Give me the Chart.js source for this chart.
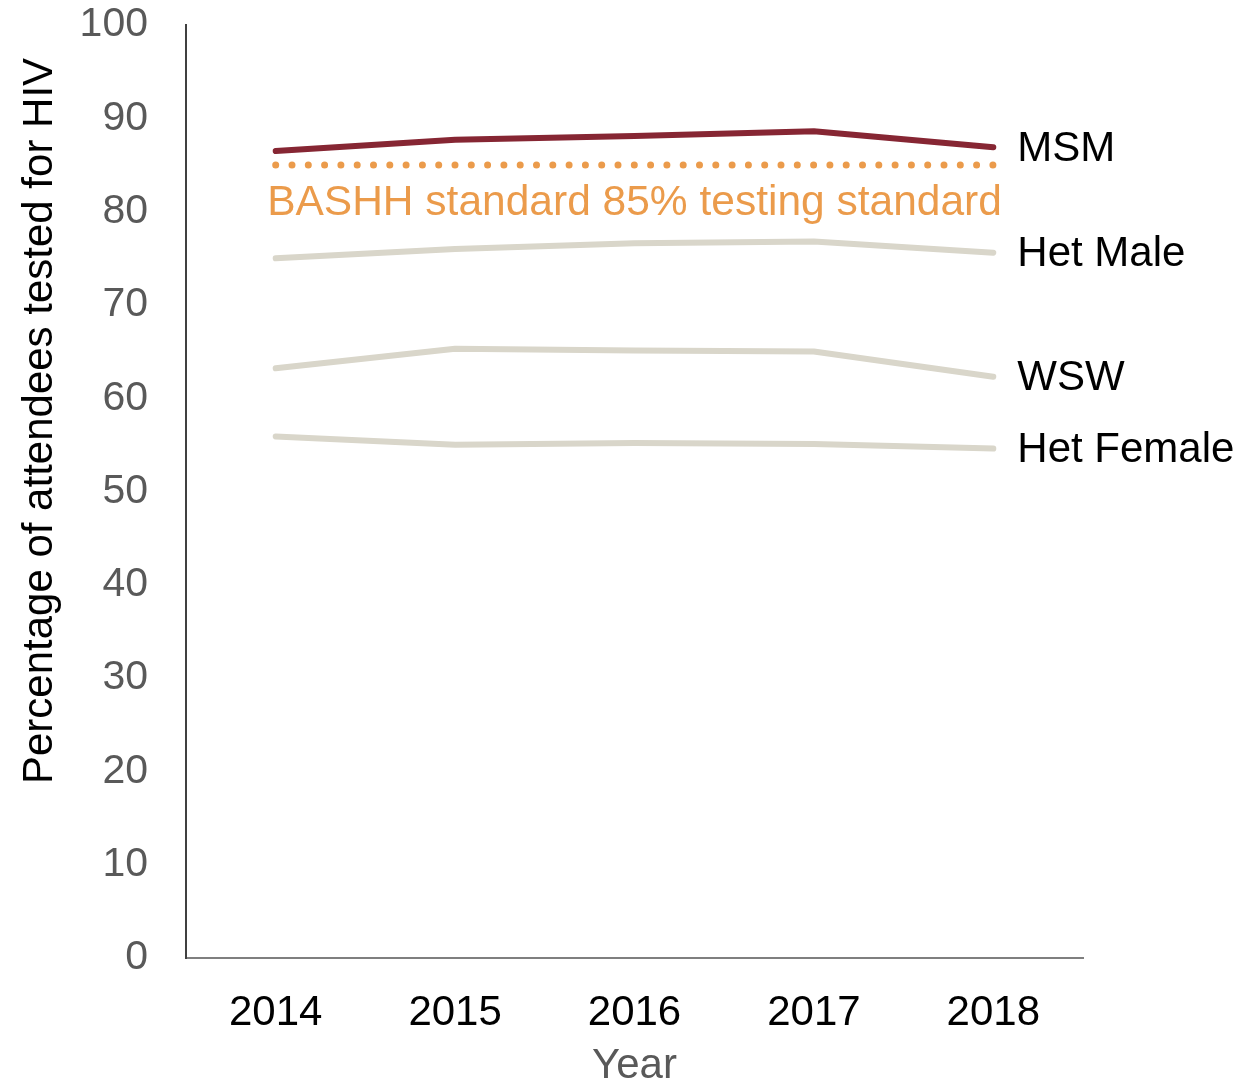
<!DOCTYPE html>
<html>
<head>
<meta charset="utf-8">
<script src="https://cdn.jsdelivr.net/npm/chart.js@4.4.1/dist/chart.umd.min.js"></script>
<style>
  html, body { margin: 0; padding: 0; background: #fff; }
  #wrap { width: 1244px; height: 1087px; position: relative; }
</style>
</head>
<body>
<div id="wrap"><canvas id="chart"></canvas></div>
<script>
const years = ['2014', '2015', '2016', '2017', '2018'];
const msm = [86.5, 87.7, 88.1, 88.6, 86.9];
const hetMale = [75.0, 76.0, 76.6, 76.8, 75.6];
const wsw = [63.2, 65.3, 65.1, 65.0, 62.3];
const hetFemale = [55.9, 55.0, 55.2, 55.1, 54.6];
const bashh = [85, 85, 85, 85, 85];

const seriesNames = ['MSM', 'Het Male', 'WSW', 'Het Female'];
const bashhLabel = 'BASHH standard 85% testing standard';
const yTitle = 'Percentage of attendees tested for HIV';
const xTitle = 'Year';

const FONT = "'Liberation Sans', Arial, sans-serif";
const GREY = '#d9d6ca';

function lineSet(label, data, color) {
    return {
        label: label,
        data: data,
        borderColor: color,
        backgroundColor: color,
        borderWidth: 6,
        borderCapStyle: 'round',
        borderJoinStyle: 'round',
        pointRadius: 0,
        tension: 0
    };
}

const labelPlugin = {
    id: 'labels',
    afterDraw(chart) {
        const ctx = chart.ctx;
        const x = chart.scales.x;
        const y = chart.scales.y;
        const area = chart.chartArea;
        ctx.save();
        ctx.font = '42px ' + FONT;
        ctx.textBaseline = 'middle';
        ctx.textAlign = 'left';
        ctx.fillStyle = '#000';
        const last = x.getPixelForValue(years.length - 1);
        [msm, hetMale, wsw, hetFemale].forEach((d, i) => {
            ctx.fillText(seriesNames[i], last + 24, y.getPixelForValue(d[d.length - 1]) + 2);
        });

        // threshold label under the dotted line
        ctx.fillStyle = '#eb9b4b';
        ctx.textAlign = 'center';
        ctx.font = '42.5px ' + FONT;
        ctx.fillText(bashhLabel, (x.getPixelForValue(0) + x.getPixelForValue(4)) / 2, y.getPixelForValue(bashh[0]) + 38);

        // x axis title
        ctx.font = '42px ' + FONT;
        ctx.fillStyle = '#595959';
        ctx.fillText(xTitle, (area.left + area.right) / 2, 1066);

        // y axis title
        ctx.fillStyle = '#000';
        ctx.translate(40, 421);
        ctx.rotate(-Math.PI / 2);
        ctx.fillText(yTitle, 0, 0);
        ctx.restore();
    }
};

const config = {
    type: 'line',
    data: {
        labels: years,
        datasets: [
            lineSet('Het Female', hetFemale, GREY),
            lineSet('WSW', wsw, GREY),
            lineSet('Het Male', hetMale, GREY),
            {
                label: 'BASHH',
                data: bashh,
                borderColor: '#eb9b4b',
                borderWidth: 7,
                borderDash: [0, 16.3],
                borderCapStyle: 'round',
                pointRadius: 0,
                tension: 0
            },
            lineSet('MSM', msm, '#862633')
        ]
    },
    options: {
        responsive: true,
        maintainAspectRatio: false,
        animation: false,
        layout: { padding: { top: 25, right: 161, left: 0, bottom: 0 } },
        plugins: {
            legend: { display: false },
            tooltip: { enabled: false }
        },
        scales: {
            x: {
                offset: true,
                grid: { display: false, drawTicks: false },
                border: { display: true, color: '#7f7f7f', width: 2 },
                ticks: {
                    color: '#000',
                    font: { family: FONT, size: 42 },
                    padding: 30,
                    maxRotation: 0
                },
                afterFit(scale) {
                    scale.height = 129;
                    scale.paddingLeft = 0;
                    scale.paddingRight = 0;
                }
            },
            y: {
                min: 0,
                max: 100,
                grid: { display: false, drawTicks: false },
                border: { display: true, color: '#404040', width: 2 },
                ticks: {
                    stepSize: 10,
                    color: '#595959',
                    font: { family: FONT, size: 41, lineHeight: 1.35 },
                    padding: 38
                },
                afterFit(scale) {
                    scale.width = 186;
                    scale.paddingTop = 0;
                    scale.paddingBottom = 0;
                }
            }
        }
    },
    plugins: [labelPlugin]
};

new Chart(document.getElementById('chart'), config);
</script>
</body>
</html>
